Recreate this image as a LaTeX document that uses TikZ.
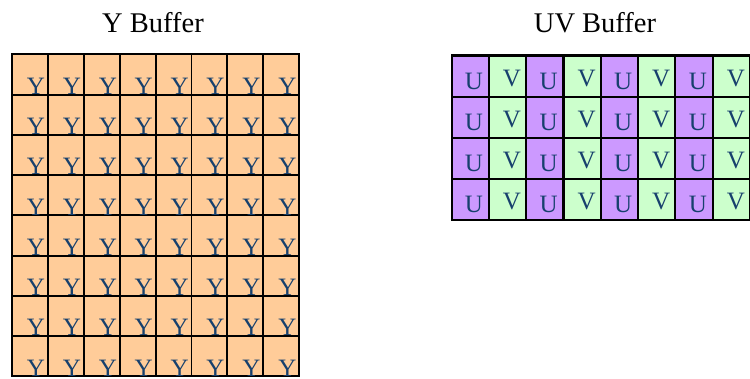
\documentclass[tikz,border=0pt]{standalone}
\usepackage{fontspec}
\setmainfont{Liberation Serif}
\usetikzlibrary{calc}
\definecolor{yfill}{HTML}{FFCC99}
\definecolor{ufill}{HTML}{CC99FF}
\definecolor{vfill}{HTML}{CCFFCC}
\definecolor{lettercol}{HTML}{17406D}
\begin{document}
\begin{tikzpicture}[x=1pt,y=-1pt,
  title/.style={anchor=base,font=\fontsize{28.5}{30}\selectfont,text=black},
  ycell/.style={draw=black,line width=1.9pt,fill=yfill,rectangle,inner sep=0pt,
    minimum width=35.9pt,minimum height=40.25pt,anchor=north west},
  uvcell/.style={draw=black,line width=2.1pt,rectangle,inner sep=0pt,
    minimum width=37.3pt,minimum height=41.05pt,anchor=north west},
  ucell/.style={uvcell,fill=ufill},
  vcell/.style={uvcell,fill=vfill},
  sample/.style={anchor=base,inner sep=0pt,text depth=0pt,
    font=\fontsize{25}{25}\selectfont,text=lettercol}]
\useasboundingbox (0,0) rectangle (750,379);

% titles
\node[title] (ytitle) at (153,32.3) {Y Buffer};
\node[title] (uvtitle) at (595,32.3) {UV Buffer};

% Y plane: 8 x 8 luma samples
\foreach \r in {0,...,7}{
  \foreach \c in {0,...,7}{
    \node[ycell] (y-\r-\c) at ({11+35.9*\c},{53.5+40.25*\r}) {};
  }
}
\foreach \r in {0,...,7}{
  \foreach \c in {0,...,7}{
    \node[sample] (ys-\r-\c) at ($(y-\r-\c.south west)+(25,-1.2)$) {Y};
  }
}

% UV plane: interleaved chroma samples
\foreach \r in {0,...,3}{
  \foreach \c in {0,...,7}{
    \pgfmathtruncatemacro{\odd}{mod(\c,2)}
    \ifnum\odd=0
      \node[ucell] (uv-\r-\c) at ({450.5+37.3*\c},{54.5+41.05*\r}) {};
    \else
      \node[vcell] (uv-\r-\c) at ({450.5+37.3*\c},{54.5+41.05*\r}) {};
    \fi
  }
}
\foreach \r in {0,...,3}{
  \foreach \c in {0,...,7}{
    \pgfmathtruncatemacro{\odd}{mod(\c,2)}
    \ifnum\odd=0
      \node[sample] (uvs-\r-\c) at ($(uv-\r-\c.south west)+(23.5,-8)$) {U};
    \else
      \node[sample] (uvs-\r-\c) at ($(uv-\r-\c.south west)+(24.2,-11)$) {V};
    \fi
  }
}
\end{tikzpicture}
\end{document}
